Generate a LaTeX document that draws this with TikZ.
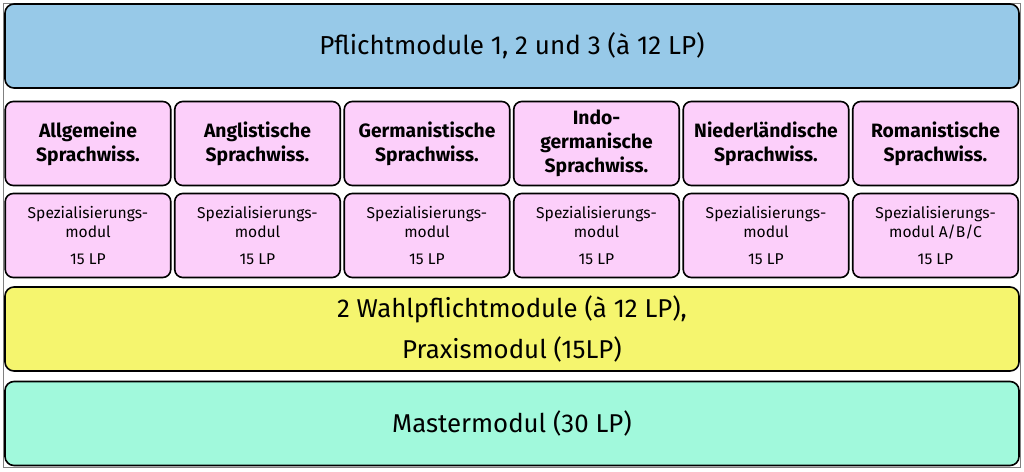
\documentclass[tikz,border=0pt]{standalone}
\usepackage{fontspec}
\setmainfont{Fira Sans}
\definecolor{blueA}{RGB}{151,201,232}
\definecolor{pinkA}{RGB}{252,207,250}
\definecolor{yellowA}{RGB}{245,245,110}
\definecolor{tealA}{RGB}{161,249,220}
\begin{document}
\begin{tikzpicture}[x=1pt,y=-1pt,
  wide/.style={draw=black, line width=1.6pt, rounded corners=9pt, minimum width=1014pt, minimum height=84pt, inner sep=0pt, align=center},
  head/.style={draw=black, line width=1.6pt, rounded corners=8pt, fill=pinkA, minimum width=165.5pt, minimum height=84pt, inner sep=0pt, align=center, font=\fontsize{19.3}{24}\selectfont\bfseries},
  spec/.style={draw=black, line width=1.6pt, rounded corners=8pt, fill=pinkA, minimum width=165.5pt, minimum height=84pt, inner sep=0pt, align=center, font=\fontsize{15.6}{19.5}\selectfont}]
\useasboundingbox (0,0) rectangle (1024,471);
\draw[gray, line width=1pt] (3.5,3.5) rectangle (1020.5,467.5);
\node[wide, fill=blueA, font=\fontsize{26}{30}\selectfont] (pflicht) at (512,46) {Pflichtmodule 1, 2 und 3 (à 12 LP)};
\node[head] (h1) at (88,143.5) {Allgemeine\\Sprachwiss.};
\node[head] (h2) at (257.5,143.5) {Anglistische\\Sprachwiss.};
\node[head] (h3) at (427,143.5) {Germanistische\\Sprachwiss.};
\node[head] (h4) at (596.5,143.5) {Indo-\\germanische\\Sprachwiss.};
\node[head] (h5) at (766,143.5) {Niederländische\\Sprachwiss.};
\node[head] (h6) at (935.5,143.5) {Romanistische\\Sprachwiss.};
\node[spec] (s1) at (88,235.5) {Spezialisierungs-\\modul\\[7pt]15 LP};
\node[spec] (s2) at (257.5,235.5) {Spezialisierungs-\\modul\\[7pt]15 LP};
\node[spec] (s3) at (427,235.5) {Spezialisierungs-\\modul\\[7pt]15 LP};
\node[spec] (s4) at (596.5,235.5) {Spezialisierungs-\\modul\\[7pt]15 LP};
\node[spec] (s5) at (766,235.5) {Spezialisierungs-\\modul\\[7pt]15 LP};
\node[spec] (s6) at (935.5,235.5) {Spezialisierungs-\\modul A/B/C\\[7pt]15 LP};
\node[wide, fill=yellowA, font=\fontsize{25.8}{41}\selectfont] (wahl) at (512,329) {2 Wahlpflichtmodule (à 12 LP),\\Praxismodul (15LP)};
\node[wide, fill=tealA, font=\fontsize{25.8}{30}\selectfont] (master) at (512,423.5) {Mastermodul (30 LP)};
\end{tikzpicture}
\end{document}
